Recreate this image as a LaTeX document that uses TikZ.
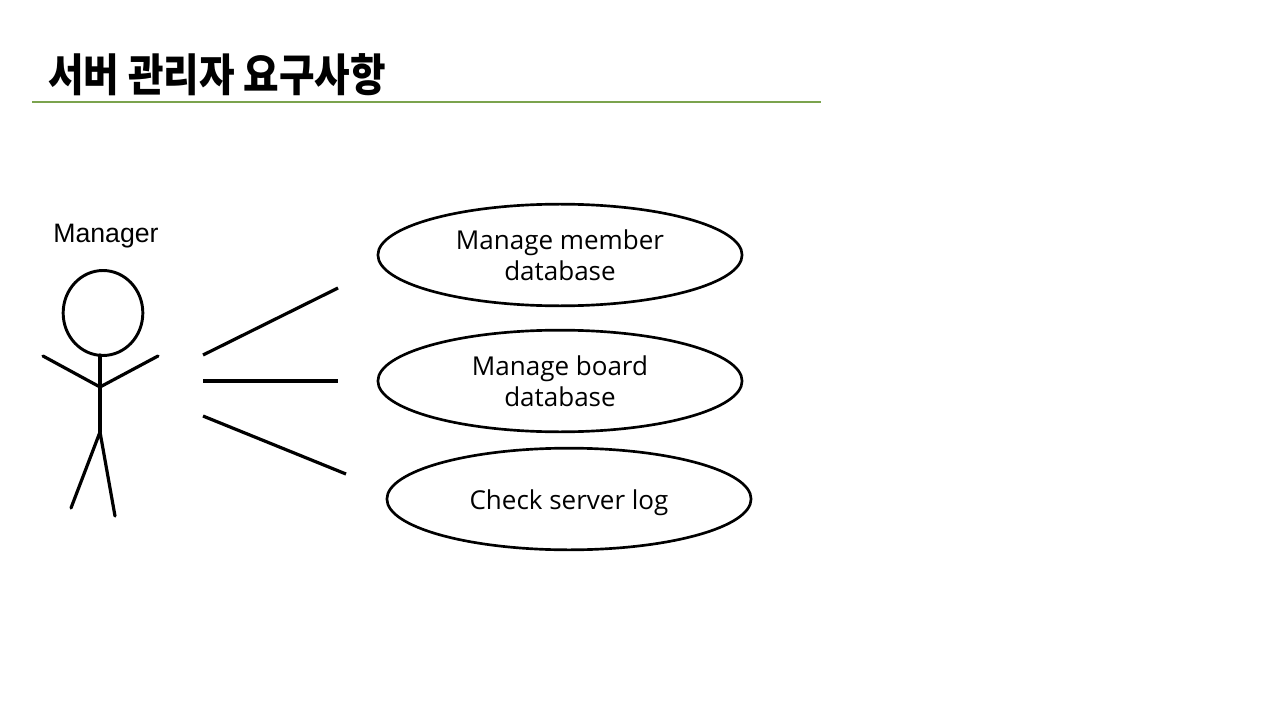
\documentclass[tikz,border=0pt]{standalone}
\usepackage{fontspec}
\setmainfont{Open Sans}
\setsansfont{Liberation Sans}
\newfontfamily\cjk{Noto Sans CJK KR Black}[FakeStretch=0.865]
\usetikzlibrary{positioning,shapes.geometric}
\definecolor{titlegreen}{HTML}{7BA34E}
\tikzset{
  usecase/.style={draw, ellipse, line width=2pt, minimum width=9.6cm, minimum height=2.68cm, align=center, font=\fontsize{19.5}{23.25}\selectfont, inner sep=0pt},
  stick/.style={line width=2.4pt, line cap=round},
  assoc/.style={line width=2.4pt},
}
\begin{document}
\begin{tikzpicture}[x=1pt,y=-1pt,xscale=0.75,yscale=0.75]
  \useasboundingbox (0,0) rectangle (1280,720);
  \node[anchor=west, inner sep=0pt, font=\cjk\fontsize{33.5}{33.5}\selectfont] (title) at (48,75) {서버 관리자 요구사항};
  \coordinate (ruleL) at (32,102);
  \coordinate (ruleR) at (821,102);
  \draw[titlegreen, line width=1.4pt] (ruleL) -- (ruleR);

  \node[font=\sffamily\fontsize{20}{20}\selectfont] (mgr) at (106,236) {Manager};
  \node[draw, ellipse, line width=2.2pt, minimum width=2.1cm, minimum height=2.24cm, inner sep=0pt] (head) at (103,313) {};
  \coordinate (neck) at (100,355);
  \coordinate (chest) at (100,387);
  \coordinate (hip) at (100,432);
  \coordinate (handL) at (43,356);
  \coordinate (handR) at (158,356);
  \coordinate (footL) at (71,508);
  \coordinate (footR) at (115,516);
  \draw[stick] (neck) -- (hip);
  \draw[stick] (handL) -- (chest) -- (handR);
  \draw[stick] (footL) -- (hip) -- (footR);

  \node[usecase] (member) at (560,255) {Manage member\\database};
  \node[usecase] (board) at (560,381) {Manage board\\database};
  \node[usecase, text height=20pt] (log) at (569,499) {Check server log};

  \coordinate (a1) at (203,355);
  \coordinate (b1) at (338,288);
  \coordinate (a2) at (203,381);
  \coordinate (b2) at (338,381);
  \coordinate (a3) at (203,416);
  \coordinate (b3) at (346,474);
  \draw[assoc] (a1) -- (b1);
  \draw[assoc] (a2) -- (b2);
  \draw[assoc] (a3) -- (b3);
\end{tikzpicture}
\end{document}
